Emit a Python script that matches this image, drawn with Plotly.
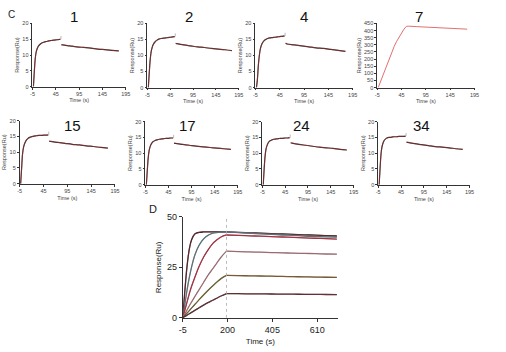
import plotly.graph_objects as go

W, H = 506, 352

# ---------------- data ----------------
ta = [-3, -1, 1, 3, 5, 8, 12, 16, 20, 25, 30, 35, 40, 45, 50, 55]
td = [57, 60, 75, 90, 105, 120, 135, 150, 165, 180]

a1 = [0, 5, 9, 11, 12, 12.9, 13.5, 13.9, 14.1, 14.3, 14.5, 14.6, 14.7, 14.8, 14.9, 15.0]
d1 = [13.3, 13.2, 12.9, 12.6, 12.4, 12.2, 11.9, 11.7, 11.5, 11.3]
a2 = [0, 4.5, 8.5, 11, 12.3, 13.5, 14.3, 14.8, 15.1, 15.3, 15.4, 15.5, 15.6, 15.7, 15.8, 15.9]
d2 = [13.8, 13.7, 13.3, 13.0, 12.7, 12.5, 12.2, 12.0, 11.8, 11.5]
a4 = [0, 2.5, 7, 10, 12, 13.5, 14.5, 15.0, 15.3, 15.5, 15.6, 15.7, 15.8, 15.9, 16.0, 16.1]
d4 = [13.8, 13.6, 13.3, 13.0, 12.7, 12.4, 12.2, 11.9, 11.6, 11.3]
a7 = [0, 18, 36, 55, 72, 100, 140, 175, 210, 250, 290, 325, 355, 385, 410, 430]
d7 = [432, 431, 428, 425, 422, 419, 416, 414, 412, 410]
a15 = [0, 5, 9.5, 11.5, 12.6, 13.6, 14.3, 14.7, 14.9, 15.1, 15.2, 15.3, 15.3, 15.4, 15.4, 15.5]
d15 = [13.5, 13.4, 13.1, 12.8, 12.5, 12.3, 12.0, 11.8, 11.5, 11.3]
a17 = [0, 4.5, 8.5, 10.8, 12, 13, 13.7, 14.0, 14.2, 14.4, 14.5, 14.6, 14.7, 14.7, 14.8, 14.8]
d17 = [13.2, 13.1, 12.8, 12.5, 12.2, 12.0, 11.8, 11.6, 11.4, 11.2]
a24 = [0, 5, 9, 11.2, 12.3, 13.3, 13.9, 14.2, 14.4, 14.5, 14.6, 14.7, 14.7, 14.8, 14.8, 14.9]
d24 = [13.3, 13.2, 12.8, 12.5, 12.2, 11.9, 11.7, 11.5, 11.2, 11.0]
a34 = [0, 5, 9.5, 11.8, 13, 14, 14.6, 14.9, 15.0, 15.1, 15.2, 15.2, 15.3, 15.3, 15.3, 15.4]
d34 = [13.5, 13.4, 13.0, 12.7, 12.4, 12.1, 11.9, 11.7, 11.4, 11.2]

panel_names = ["1", "2", "4", "7", "15", "17", "24", "34"]
assoc = [a1, a2, a4, a7, a15, a17, a24, a34]
dissoc = [d1, d2, d4, d7, d15, d17, d24, d34]
c_xticks = [-5, 45, 95, 145, 195]
c_xticktext = ["-5", "45", "95", "145", "195"]

# Panel D: association / dissociation curves
tD_a = [-5, 5, 15, 25, 35, 50, 70, 90, 110, 130, 150, 170, 195]
tD_d = [195, 250, 300, 350, 400, 450, 500, 550, 600, 650, 700]
D_assoc = [
    [0, 14, 26, 34, 38.5, 41.5, 42.3, 42.5, 42.5, 42.5, 42.5, 42.5, 42.5],
    [0, 7, 14, 20, 25, 31, 36, 39, 40.8, 41.8, 42.2, 42.4, 42.5],
    [0, 4, 8, 12, 15.5, 20, 25.5, 30, 33.5, 36.5, 38.5, 40, 41],
    [0, 2, 4, 6, 7.8, 10.5, 14, 17.5, 21, 24, 27, 30, 33],
    [0, 1.2, 2.4, 3.6, 4.8, 6.6, 9, 11.3, 13.5, 15.6, 17.6, 19.4, 21],
    [0, 0.7, 1.3, 2, 2.7, 3.7, 5, 6.3, 7.5, 8.6, 9.7, 10.8, 12],
]
D_dissoc = [
    [42.5, 42.3, 42.1, 41.9, 41.7, 41.5, 41.3, 41.1, 40.9, 40.7, 40.5],
    [42.5, 42.2, 41.9, 41.6, 41.3, 41.0, 40.8, 40.5, 40.3, 40.1, 39.9],
    [41.0, 40.8, 40.6, 40.4, 40.2, 40.0, 39.8, 39.6, 39.4, 39.2, 39.0],
    [33.0, 32.8, 32.6, 32.5, 32.3, 32.2, 32.0, 31.9, 31.8, 31.6, 31.5],
    [21.0, 20.9, 20.8, 20.7, 20.6, 20.5, 20.4, 20.3, 20.2, 20.1, 20.0],
    [12.0, 11.95, 11.9, 11.85, 11.8, 11.75, 11.7, 11.65, 11.6, 11.55, 11.5],
]
D_colors = ["#111111", "#2e8b8b", "#8b2c3c", "#8a8a8a", "#4a6a2a", "#222222"]
D_xticks = [-5, 200, 405, 610]
D_xticktext = ["-5", "200", "405", "610"]
D_yticks = [0, 25, 50]
t_inject_end = 195

# ---------------- layout helpers ----------------
def px_dom_x(a, b):
    return [a / W, b / W]

def px_dom_y(top, bottom):
    return [1 - bottom / H, 1 - top / H]

# pixel boxes (x of -5, x of 195, y of top value, y of 0)
boxes = [
    (29, 124, 19, 84),
    (146, 239, 19, 85),
    (256, 355, 19, 85),
    (380, 479, 19, 85),
    (16, 113, 119, 184),
    (144, 238, 120, 185),
    (263, 356, 120, 185),
    (381, 474, 120, 185),
]
title_pos = [(71, 12), (188, 12), (305, 12), (423, 12),
             (70, 124), (187, 124), (303, 124), (425, 124)]

fig = go.Figure()
layout = dict(width=W, height=H, margin=dict(l=0, r=0, t=0, b=0),
              paper_bgcolor="white", plot_bgcolor="white", showlegend=False)
annotations = []
shapes = []

FAM = "Arial, Liberation Sans, sans-serif"
small_font = dict(family=FAM, size=5.5, color="#444")

for i in range(8):
    k = i + 1
    xa = "xaxis" if k == 1 else f"xaxis{k}"
    ya = "yaxis" if k == 1 else f"yaxis{k}"
    xr = "x" if k == 1 else f"x{k}"
    yr = "y" if k == 1 else f"y{k}"
    x0, x1, ytop, ybot = boxes[i]
    is7 = panel_names[i] == "7"
    ymax = 450 if is7 else 20
    yticks = list(range(0, 451, 50)) if is7 else [0, 5, 10, 15, 20]
    layout[xa] = dict(domain=px_dom_x(x0, x1), anchor=yr, range=[-5, 195],
                      tickvals=c_xticks, ticktext=c_xticktext,
                      showgrid=False, zeroline=False,
                      showline=True, linecolor="#333", linewidth=0.8,
                      ticks="outside", ticklen=2, tickwidth=0.6, tickcolor="#333",
                      tickfont=small_font,
                      title=dict(text="Time (s)", font=small_font, standoff=2))
    layout[ya] = dict(domain=px_dom_y(ytop, ybot), anchor=xr, range=[0, ymax],
                      tickvals=yticks, showgrid=False, zeroline=False,
                      showline=True, linecolor="#333", linewidth=0.8,
                      ticks="outside", ticklen=2, tickwidth=0.6, tickcolor="#333",
                      tickfont=small_font,
                      title=dict(text="Response(Ru)", font=small_font, standoff=2))
    if is7:
        fig.add_trace(go.Scatter(x=ta + td, y=assoc[i] + dissoc[i], mode="lines",
                                 line=dict(color="#e07070", width=1), xaxis=xr, yaxis=yr))
    else:
        for tt, vv in ((ta, assoc[i]), (td, dissoc[i])):
            fig.add_trace(go.Scatter(x=tt, y=vv, mode="lines",
                                     line=dict(color="#222", width=1.2, shape="spline"),
                                     xaxis=xr, yaxis=yr))
            fig.add_trace(go.Scatter(x=tt, y=vv, mode="lines",
                                     line=dict(color="#d04040", width=0.5, shape="spline"),
                                     xaxis=xr, yaxis=yr))
        # injection spike
        fig.add_trace(go.Scatter(x=[56, 56], y=[assoc[i][-1], assoc[i][-1] + 1.0],
                                 mode="lines", line=dict(color="#aaa", width=0.8),
                                 xaxis=xr, yaxis=yr))
    tx, ty = title_pos[i]
    annotations.append(dict(text=panel_names[i], x=tx / W, y=1 - ty / H, xref="paper",
                            yref="paper", showarrow=False, xanchor="center", yanchor="middle",
                            font=dict(family=FAM, size=15, color="#111")))

# Panel D
big_font = dict(family=FAM, size=9, color="#222")
lab_font = dict(family=FAM, size=8, color="#222")
layout["xaxis9"] = dict(domain=px_dom_x(182, 340), anchor="y9", range=[-5, 705],
                        tickvals=D_xticks, ticktext=D_xticktext,
                        showgrid=False, zeroline=False,
                        showline=True, linecolor="#333", linewidth=1,
                        ticks="outside", ticklen=3, tickwidth=0.8, tickcolor="#333",
                        tickfont=big_font,
                        title=dict(text="Time (s)", font=lab_font, standoff=4))
layout["yaxis9"] = dict(domain=px_dom_y(218, 322), anchor="x9", range=[0, 50],
                        tickvals=D_yticks, showgrid=False, zeroline=False,
                        showline=True, linecolor="#333", linewidth=1,
                        ticks="outside", ticklen=3, tickwidth=0.8, tickcolor="#333",
                        tickfont=big_font,
                        title=dict(text="Response(Ru)", font=lab_font, standoff=4))

for j in range(6):
    for tt, vv in ((tD_a, D_assoc[j]), (tD_d, D_dissoc[j])):
        fig.add_trace(go.Scatter(x=tt, y=vv, mode="lines",
                                 line=dict(color=D_colors[j], width=1.3, shape="spline"),
                                 xaxis="x9", yaxis="y9"))
        fig.add_trace(go.Scatter(x=tt, y=vv, mode="lines",
                                 line=dict(color="#c04050", width=0.5, shape="spline"),
                                 xaxis="x9", yaxis="y9"))

shapes.append(dict(type="line", xref="x9", yref="y9", x0=t_inject_end, x1=t_inject_end,
                   y0=0, y1=50, line=dict(color="#aaa", width=0.8, dash="dot")))

annotations.append(dict(text="C", x=8 / W, y=1 - 10 / H, xref="paper", yref="paper",
                        showarrow=False, xanchor="center", yanchor="middle",
                        font=dict(family=FAM, size=10, color="#222")))
annotations.append(dict(text="D", x=152 / W, y=1 - 210 / H, xref="paper", yref="paper",
                        showarrow=False, xanchor="center", yanchor="middle",
                        font=dict(family=FAM, size=11, color="#222")))

layout["annotations"] = annotations
layout["shapes"] = shapes
fig.update_layout(**layout)
fig.write_html("out.html")
